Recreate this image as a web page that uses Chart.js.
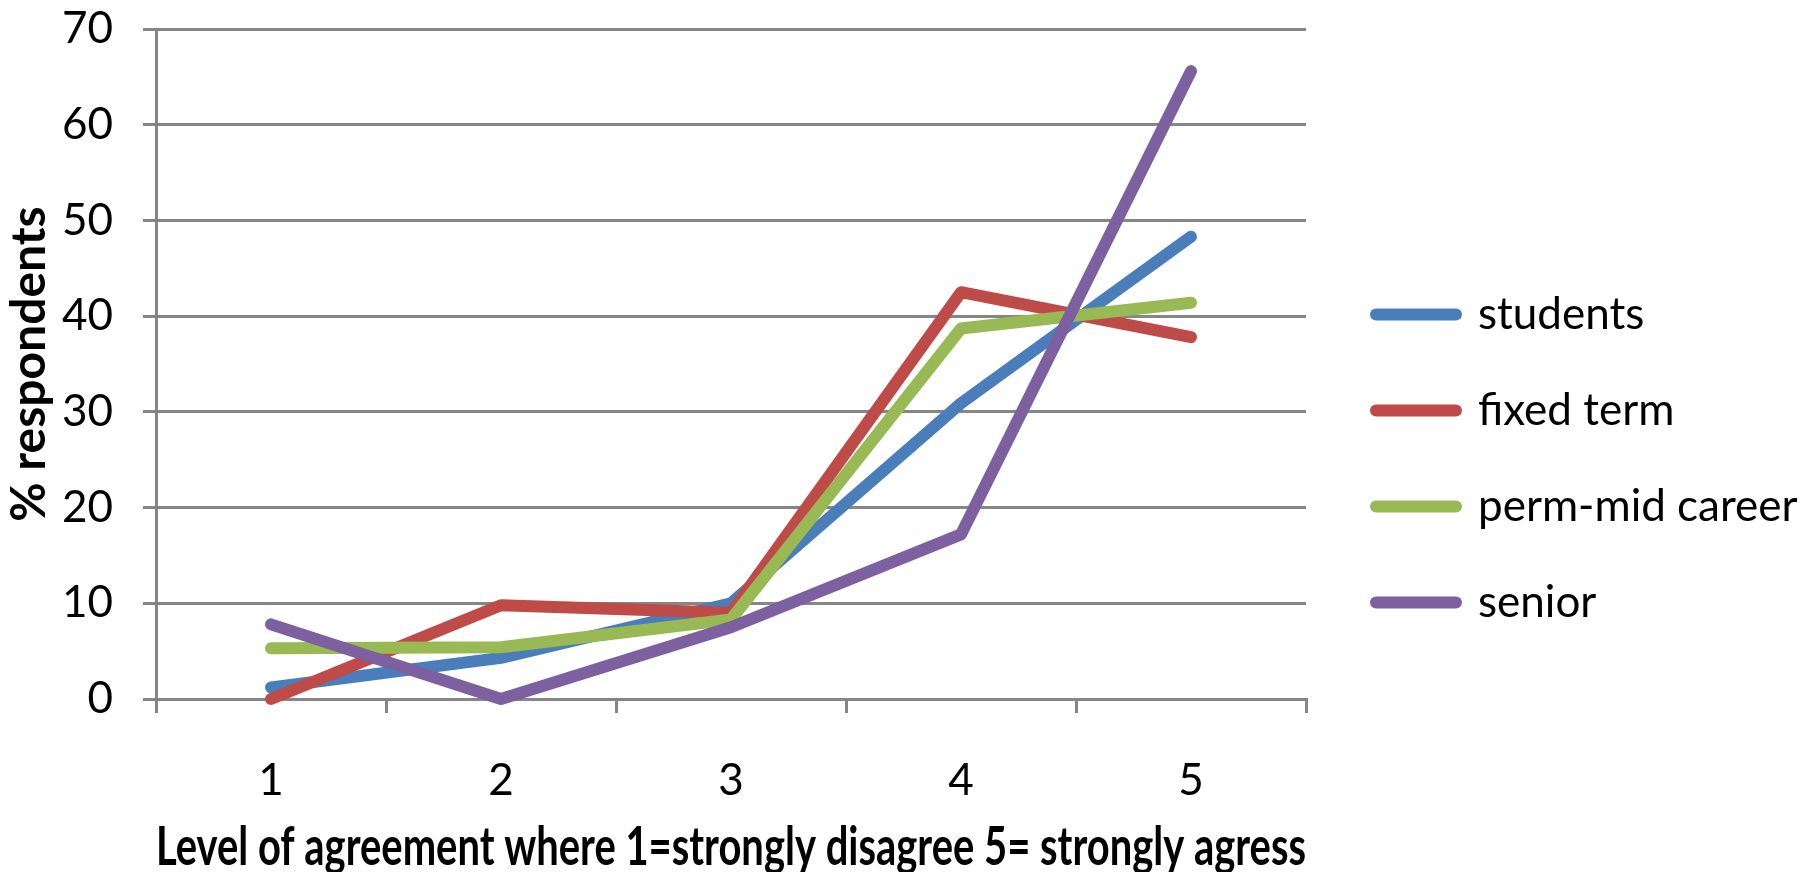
<!DOCTYPE html>
<html>
<head>
<meta charset="utf-8">
<title>Level of agreement by career stage</title>
<script src="https://cdn.jsdelivr.net/npm/chart.js@4/dist/chart.umd.min.js"></script>
<style>
  html, body { margin: 0; padding: 0; background: #ffffff; }
  #wrap { width: 1802px; height: 872px; }
</style>
</head>
<body>
<div id="wrap"><canvas id="chart" width="1802" height="872"></canvas></div>
<script>
// Agreement level (1 = strongly disagree ... 5 = strongly agree)
const categories = ['1', '2', '3', '4', '5'];

// % respondents per group
const students      = [1.2, 4.3, 10.0, 30.9, 48.3];
const fixedTerm     = [0.0, 9.8, 9.0, 42.5, 37.8];
const permMidCareer = [5.3, 5.4, 8.3, 38.7, 41.4];
const senior        = [7.8, 0.0, 7.5, 17.2, 65.6];

// value axis ticks
const yTicks = [0, 10, 20, 30, 40, 50, 60, 70];

const GRID = '#868686';
const LINE_W = 12;
const FONT = 'Lato';
const TICK_SIZE = 44;

// Plot area geometry
const PLOT_LEFT = 156;
const PLOT_RIGHT = 1306;
const PLOT_TOP = 29;
const PLOT_BOTTOM = 699;
const CANVAS_W = 1802;
const CANVAS_H = 872;

// Keeps the legend column a fixed width and nudges it into place
const legendPlacement = {
  id: 'legendPlacement',
  afterInit(chart) {
    const legend = chart.legend;
    const fit = legend.fit;
    legend.fit = function () {
      fit.call(this);
      this.width = CANVAS_W - PLOT_RIGHT;
    };
  },
  afterLayout(chart) {
    const legend = chart.legend;
    legend.left += 18; legend.right += 18;
    legend.top += 8; legend.bottom += 8;
  }
};

const series = [
  { label: 'students',         data: students,      color: '#4A7EBB', order: 4 },
  { label: 'fixed term',       data: fixedTerm,     color: '#BE4B48', order: 3 },
  { label: 'perm-mid career',  data: permMidCareer, color: '#98B954', order: 2 },
  { label: 'senior',           data: senior,        color: '#7D60A0', order: 1 }
];

new Chart(document.getElementById('chart'), {
  type: 'line',
  data: {
    labels: categories,
    datasets: series.map(s => ({
      label: s.label,
      data: s.data,
      borderColor: s.color,
      backgroundColor: s.color,
      order: s.order,
      clip: false
    }))
  },
  options: {
    responsive: false,
    animation: false,
    devicePixelRatio: 1,
    layout: { padding: { top: PLOT_TOP, left: 0, right: 0, bottom: 0 } },
    elements: {
      line: { borderWidth: LINE_W, tension: 0, borderCapStyle: 'round', borderJoinStyle: 'round', fill: false },
      point: { radius: 0, hoverRadius: 0 }
    },
    scales: {
      x: {
        type: 'category',
        offset: true,
        grid: { offset: true, drawOnChartArea: false, drawTicks: true, tickLength: 14, color: GRID, lineWidth: 3 },
        border: { display: true, color: GRID, width: 3 },
        ticks: { padding: 41, color: '#000', font: { family: FONT, size: TICK_SIZE }, maxRotation: 0, autoSkip: false },
        title: {
          display: true,
          text: 'Level of agreement where 1=strongly disagree 5= strongly agress',
          color: '#000',
          font: { family: FONT, size: 54, weight: 'bold', lineHeight: 0.9 },
          padding: { top: 0, bottom: 0 }
        },
        afterFit(scale) { scale.height = CANVAS_H - PLOT_BOTTOM; }
      },
      y: {
        min: yTicks[0],
        max: yTicks[yTicks.length - 1],
        ticks: { stepSize: yTicks[1] - yTicks[0], padding: 30, color: '#000', font: { family: FONT, size: TICK_SIZE } },
        grid: { color: GRID, lineWidth: 3, tickLength: 13, drawTicks: true },
        border: { display: true, color: GRID, width: 3 },
        title: {
          display: true,
          text: '% respondents',
          color: '#000',
          font: { family: FONT, size: 48, weight: 'bold' },
          padding: { top: 1, bottom: 0 }
        },
        afterFit(scale) {
          scale.width = PLOT_LEFT;
          scale.paddingTop = 0;
          scale.paddingBottom = 0;
        }
      }
    },
    plugins: {
      legend: {
        position: 'right',
        align: 'center',
        labels: {
          usePointStyle: true,
          pointStyle: 'line',
          pointStyleWidth: 80,
          padding: 52,
          color: '#000',
          font: { family: FONT, size: TICK_SIZE },
          generateLabels(chart) {
            return Chart.defaults.plugins.legend.labels.generateLabels(chart)
              .map(item => Object.assign(item, { lineWidth: LINE_W, lineCap: 'round' }));
          },
          sort: (a, b) => a.datasetIndex - b.datasetIndex
        }
      },
      tooltip: { enabled: false }
    }
  },
  plugins: [legendPlacement]
});
</script>
</body>
</html>
